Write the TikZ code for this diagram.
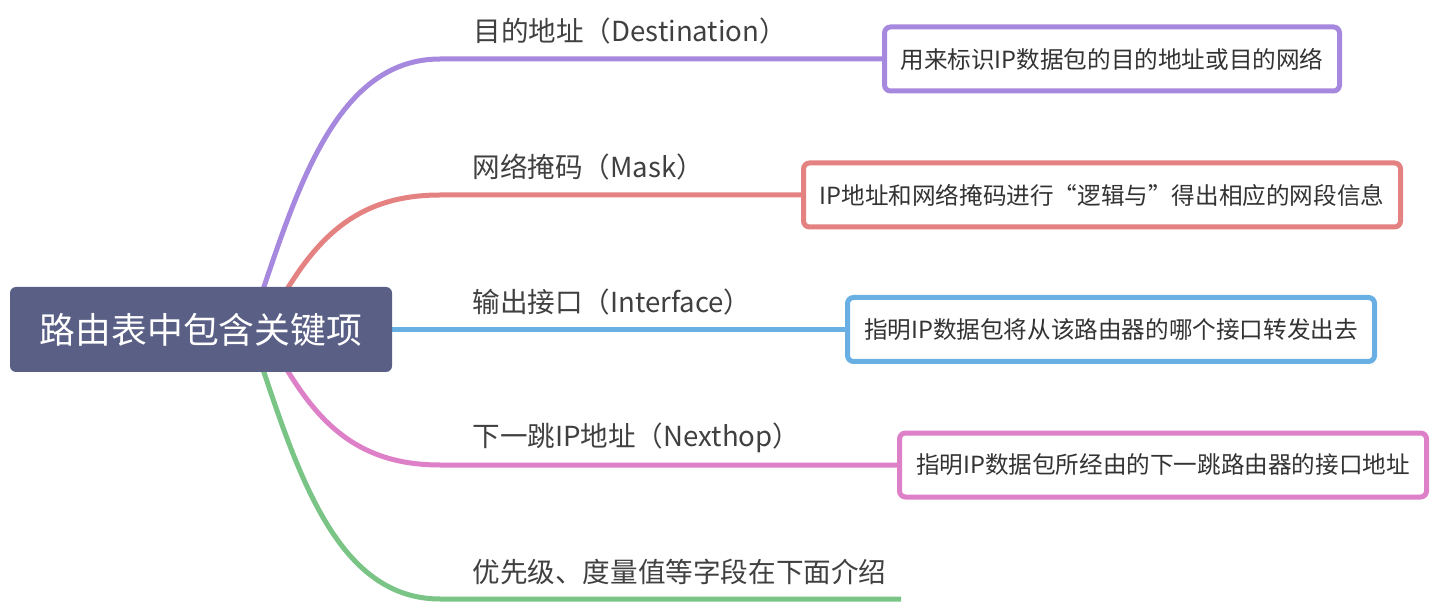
\documentclass[tikz,border=0pt]{standalone}
\usepackage{fontspec}
\setmainfont{Noto Sans CJK SC}
\usetikzlibrary{positioning}
\usetikzlibrary{calc}
\usetikzlibrary{backgrounds}
\definecolor{rootfill}{RGB}{89,95,133}
\definecolor{labeltext}{RGB}{64,64,64}
\definecolor{boxtext}{RGB}{51,51,51}
\definecolor{mmpurple}{RGB}{166,137,222}
\definecolor{mmred}{RGB}{228,130,130}
\definecolor{mmblue}{RGB}{104,176,228}
\definecolor{mmpink}{RGB}{222,128,200}
\definecolor{mmgreen}{RGB}{122,196,134}

\begin{document}
\begin{tikzpicture}[x=0.5pt, y=-0.5pt,
                rootnode/.style={rectangle, rounded corners=3pt, fill=rootfill, text=white, font=\fontsize{17.9pt}{20pt}\selectfont, minimum width=191pt, minimum height=42.5pt, inner sep=0pt},
                branchlabel/.style={anchor=west, inner sep=0pt, text=labeltext, font=\fontsize{13.8pt}{16pt}\selectfont},
                infobox/.style={rectangle, rounded corners=3pt, fill=white, line width=2.5pt, text=boxtext, font=\fontsize{11.8pt}{14pt}\selectfont, minimum height=32pt, inner sep=0pt},
                branchline/.style={line width=2.5pt},
                ]

                \useasboundingbox (0,0) rectangle (1436,604);

                \node[rootnode] (root) at (201,329.5) {路由表中包含关键项};

                % branch labels
                \node[branchlabel] (dstlabel) at (473,31) {目的地址（Destination）};
                \node[branchlabel] (masklabel) at (472,167) {网络掩码（Mask）};
                \node[branchlabel] (iflabel) at (472,302) {输出接口（Interface）};
                \node[branchlabel] (nhlabel) at (472,438) {下一跳IP地址（Nexthop）};
                \node[branchlabel] (otherlabel) at (472,572) {优先级、度量值等字段在下面介绍};

                % explanation boxes
                \node[infobox, draw=mmpurple, minimum width=227.5pt] (dstbox) at (1112,59) {用来标识IP数据包的目的地址或目的网络};
                \node[infobox, draw=mmred, minimum width=298.5pt] (maskbox) at (1102,195) {IP地址和网络掩码进行“逻辑与”得出相应的网段信息};
                \node[infobox, draw=mmblue, minimum width=263.5pt] (ifbox) at (1111,329.5) {指明IP数据包将从该路由器的哪个接口转发出去};
                \node[infobox, draw=mmpink, minimum width=263.5pt] (nhbox) at (1163,465) {指明IP数据包所经由的下一跳路由器的接口地址};

                \coordinate (dstknee) at (440,59);
                \coordinate (maskknee) at (440,195);
                \coordinate (nhknee) at (440,465);
                \coordinate (otherknee) at (440,599);
                \coordinate (otherend) at (901,599);

                \begin{scope}[on background layer]
                    \draw[branchline, draw=mmpurple] ($(root.north)+(61,6)$) .. controls (300,180) and (340,59) .. (dstknee) -- (dstbox.west);
                    \draw[branchline, draw=mmred] ($(root.north)+(84,6)$) .. controls (320,235) and (360,195) .. (maskknee) -- (maskbox.west);
                    \draw[branchline, draw=mmblue] (root.east) -- (ifbox.west);
                    \draw[branchline, draw=mmpink] ($(root.south)+(84,-6)$) .. controls (320,425) and (360,465) .. (nhknee) -- (nhbox.west);
                    \draw[branchline, draw=mmgreen] ($(root.south)+(61,-6)$) .. controls (300,480) and (340,599) .. (otherknee) -- (otherend);
                \end{scope}
            \end{tikzpicture}
\end{document}
